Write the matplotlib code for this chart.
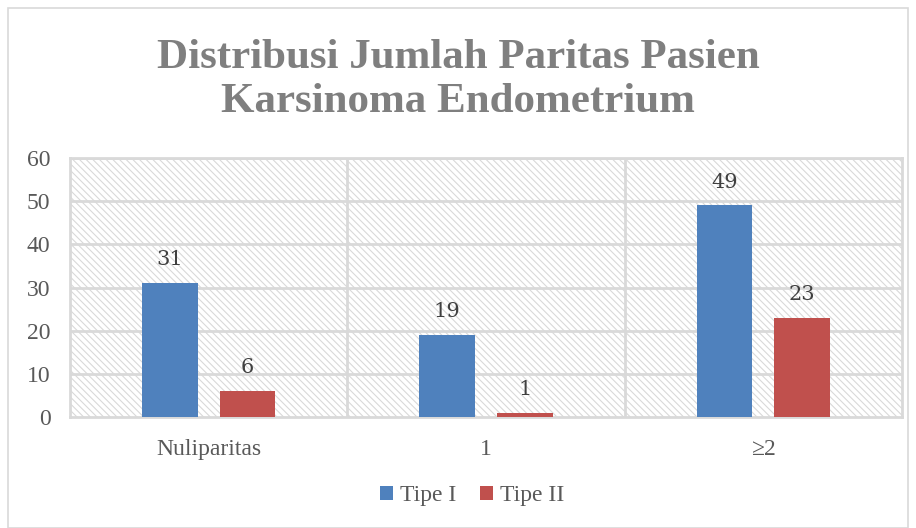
import numpy as np
import matplotlib.pyplot as plt
from matplotlib.patches import Rectangle

categories = ["Nuliparitas", "1", "≥2"]
tipe_1 = [31, 19, 49]
tipe_2 = [6, 1, 23]
series_names = ["Tipe I", "Tipe II"]

plt.rcParams["font.family"] = ["Liberation Serif", "DejaVu Serif"]
plt.rcParams["hatch.color"] = "#d9d9d9"
plt.rcParams["hatch.linewidth"] = 0.8

text_col = "#595959"
blue = "#4F81BD"
red = "#C0504D"

fig = plt.figure(figsize=(9.16, 5.28), dpi=100)
ax = fig.add_axes([70 / 916, 1 - 417 / 528, 832 / 916, 259 / 528])

# hatched plot area
ax.add_patch(Rectangle((0, 0), 1, 1, transform=ax.transAxes, facecolor="white",
                       hatch="\\\\\\\\\\", edgecolor="#d9d9d9", linewidth=0, zorder=0))

x = np.arange(len(categories))
w = 0.2
off = 0.14
b1 = ax.bar(x - off, tipe_1, w, color=blue, label=series_names[0], zorder=3)
b2 = ax.bar(x + off, tipe_2, w, color=red, label=series_names[1], zorder=3)

for bars in (b1, b2):
    for r in bars:
        ax.annotate(f"{int(r.get_height())}", (r.get_x() + r.get_width() / 2, r.get_height()),
                    xytext=(0, 10), textcoords="offset points", ha="center", va="bottom",
                    fontsize=15, color="#404040", family=["DejaVu Serif"], zorder=4)

ax.set_xlim(-0.5, 2.5)
ax.set_ylim(0, 60)
ax.set_yticks(range(0, 61, 10))
ax.set_xticks(x)
ax.set_xticklabels(categories)
ax.tick_params(axis="both", length=0, labelsize=17, colors=text_col)
ax.tick_params(axis="x", pad=16)
ax.tick_params(axis="y", pad=14)

for v in range(10, 61, 10):
    ax.axhline(v, color="#d9d9d9", lw=2, zorder=1)
for v in (0.5, 1.5):
    ax.axvline(v, color="#d9d9d9", lw=2, zorder=1)
for s in ax.spines.values():
    s.set_color("#d9d9d9")
    s.set_linewidth(2)

fig.text(0.5, 1 - 80 / 528, "Distribusi Jumlah Paritas Pasien\nKarsinoma Endometrium",
         ha="center", va="center", fontsize=31, fontweight="bold", color="#7f7f7f",
         linespacing=1.22)

leg = fig.legend(loc="center", bbox_to_anchor=(0.5 + 14 / 916, 1 - 496 / 528), ncol=2,
                 frameon=False, fontsize=17, handlelength=0.55, handleheight=0.55,
                 handletextpad=0.3, columnspacing=1.0, labelcolor=text_col)

fig.patches.append(Rectangle((8 / 916, 0), 1 - 16 / 916, 1 - 8 / 528, transform=fig.transFigure,
                             fill=False, edgecolor="#d9d9d9", linewidth=1.2))

fig.savefig("out.png", dpi=100)
